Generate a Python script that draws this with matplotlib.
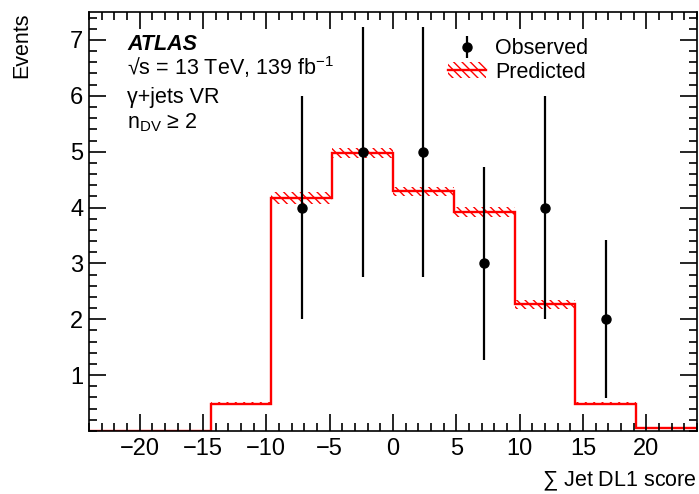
import numpy as np
import matplotlib
matplotlib.use("Agg")
import matplotlib.pyplot as plt
from matplotlib.patches import Patch
from matplotlib.lines import Line2D
from matplotlib.ticker import MultipleLocator, FixedLocator

plt.rcParams["font.family"] = ["Liberation Sans", "DejaVu Sans"]
plt.rcParams["mathtext.fontset"] = "custom"
plt.rcParams["mathtext.rm"] = "Liberation Sans"
plt.rcParams["mathtext.it"] = "Liberation Sans:italic"
plt.rcParams["hatch.linewidth"] = 1.0

# Binning of the summed jet DL1 score
bin_edges = [-24.0, -19.2, -14.4, -9.6, -4.8, 0.0, 4.8, 9.6, 14.4, 19.2, 24.0]

# Predicted background and its uncertainty
predicted = [0.0, 0.0, 0.49, 4.17, 4.97, 4.29, 3.92, 2.27, 0.49, 0.06]
predicted_err = [0.0, 0.0, 0.03, 0.10, 0.09, 0.08, 0.09, 0.08, 0.03, 0.01]

# Observed data
obs_x = [-7.2, -2.4, 2.4, 7.2, 12.0, 16.8]
obs_y = [4, 5, 5, 3, 4, 2]


def main():
    fig = plt.figure(figsize=(6.99, 4.94), dpi=100)
    ax = fig.add_axes([0.1273, 0.1275, 0.8697, 0.8482])

    edges = np.array(bin_edges)
    pred = np.array(predicted)
    perr = np.array(predicted_err)
    centers = 0.5 * (edges[:-1] + edges[1:])
    widths = np.diff(edges)

    # Uncertainty band
    ax.bar(centers, 2 * perr, bottom=pred - perr, width=widths,
           fill=False, hatch="\\\\\\\\", edgecolor="red", linewidth=0)
    ax.stairs(pred, edges, color="red", linewidth=1.7, baseline=None)

    yerr = np.sqrt(np.array(obs_y, dtype=float))
    obs = ax.errorbar(obs_x, obs_y, yerr=yerr, fmt="o", color="black",
                      markersize=6.5, elinewidth=1.6, capsize=0)

    ax.set_xlim(-24, 24)
    ax.set_ylim(0, 7.5)
    ax.set_xticks(np.arange(-20, 21, 5))
    ax.set_xticklabels([str(v).replace("-", "\u2212") for v in range(-20, 21, 5)])
    ax.xaxis.set_minor_locator(MultipleLocator(1))
    ax.yaxis.set_major_locator(FixedLocator([1, 2, 3, 4, 5, 6, 7]))
    ax.yaxis.set_minor_locator(MultipleLocator(0.2))
    ax.tick_params(which="both", direction="in", top=True, right=True,
                   labelsize=17, width=1.2)
    ax.tick_params(which="major", length=12)
    ax.tick_params(which="minor", length=6)
    ax.tick_params(axis="x", which="major", pad=5)
    ax.tick_params(axis="y", which="major", pad=4)
    for s in ax.spines.values():
        s.set_linewidth(1.2)

    ax.set_xlabel(r"$\sum$ Jet DL1 score", fontsize=15.5, loc="right")
    ax.xaxis.label.set_va("baseline")
    ax.xaxis.set_label_coords(1.0, -0.131)
    ax.set_ylabel("Events", fontsize=15.5, loc="top")
    ax.yaxis.set_label_coords(-0.094, 1.0)

    tx = 0.0625
    ax.text(tx, 0.9095, "ATLAS", transform=ax.transAxes, fontsize=15.5,
            fontweight="bold", fontstyle="italic", va="baseline")
    ax.text(tx, 0.850, "\u221As = 13 TeV, 139 fb$^{-1}$", transform=ax.transAxes,
            fontsize=15.5, va="baseline")
    ax.text(tx, 0.783, "\u03b3+jets VR", transform=ax.transAxes,
            fontsize=15.5, va="baseline")
    ax.text(tx, 0.722, "n$_{\\mathrm{DV}}$ \u2265 2", transform=ax.transAxes,
            fontsize=15.5, va="baseline")

    band_handle = (Patch(facecolor="none", edgecolor="red", hatch="\\\\\\\\",
                         linewidth=0),
                   Line2D([], [], color="red", linewidth=1.7))
    ax.legend([obs, band_handle], ["Observed", "Predicted"],
              loc="upper left", bbox_to_anchor=(0.59, 0.937), frameon=False,
              fontsize=15.5, handlelength=1.8, handletextpad=0.4,
              labelspacing=0.1, borderpad=0, borderaxespad=0)

    fig.savefig("out.png", dpi=100)
    plt.close(fig)


if __name__ == "__main__":
    main()
